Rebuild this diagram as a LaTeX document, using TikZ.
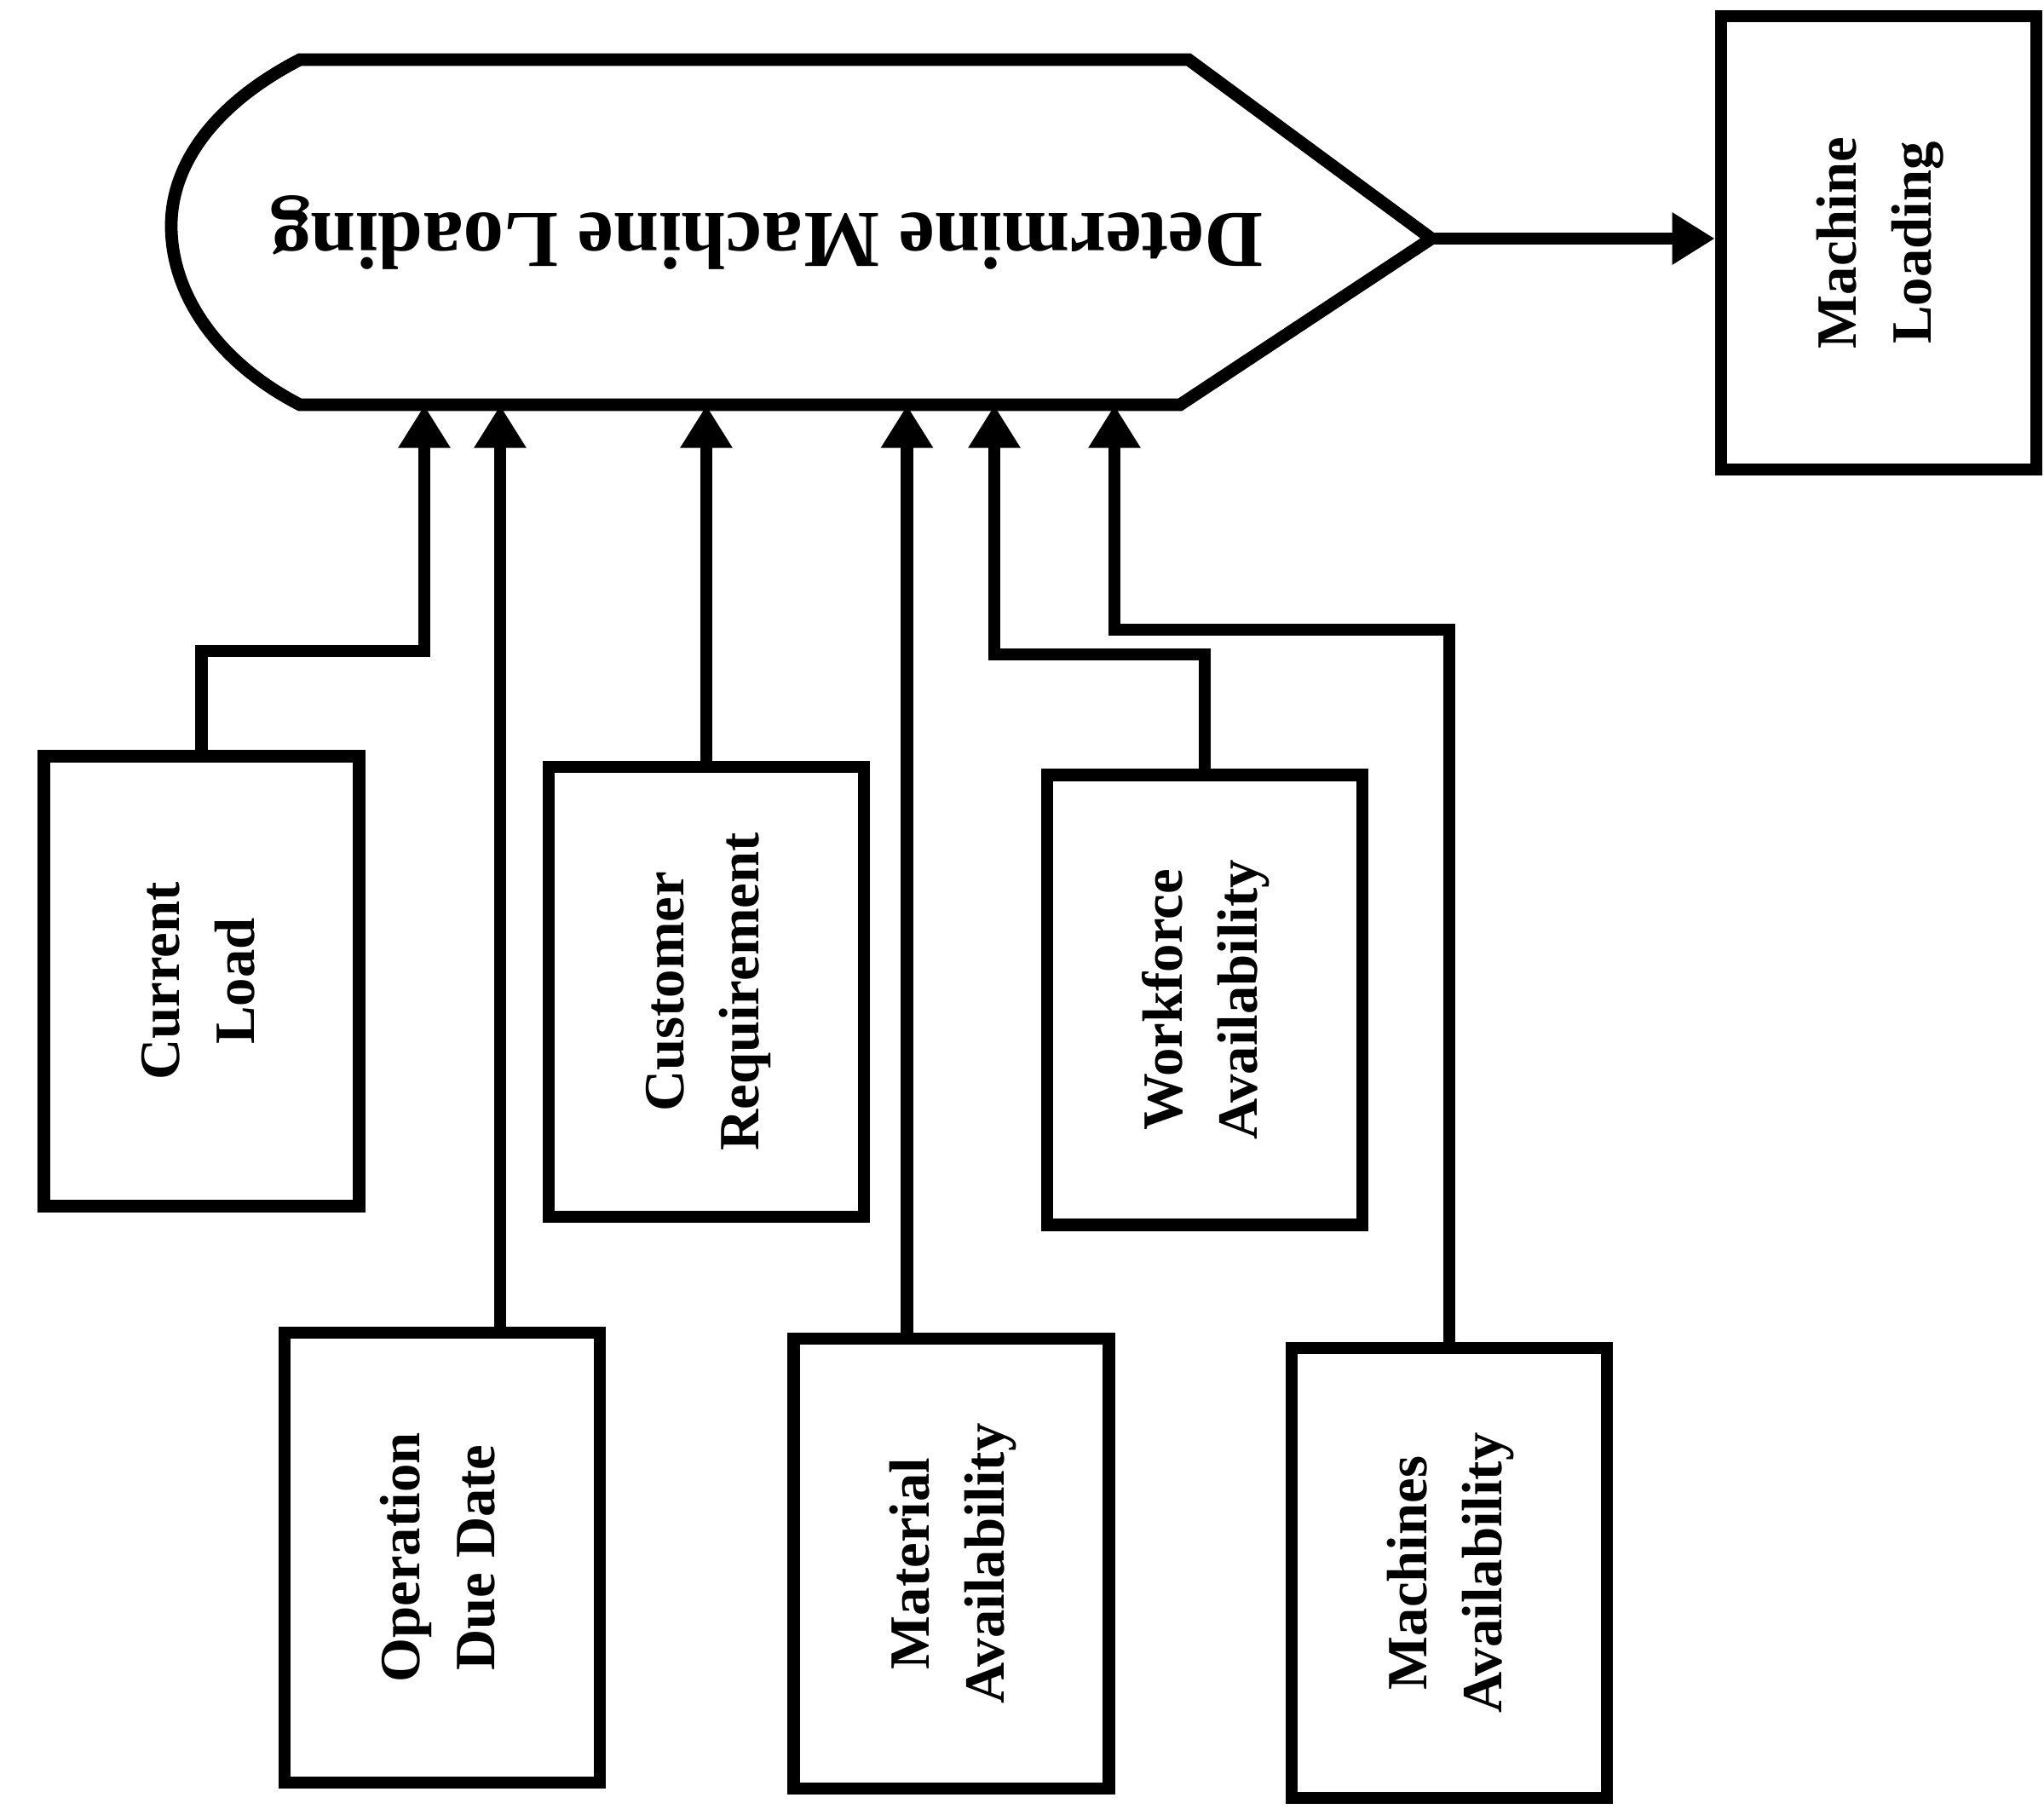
\documentclass[tikz,border=0pt]{standalone}
\usepackage{graphicx}
\usepackage{fontspec}
\setmainfont{Liberation Serif}
\usepackage{tikz}
\usetikzlibrary{arrows.meta}
\usetikzlibrary{positioning}

\newcommand{\boxfont}{\bfseries\fontsize{19}{25}\selectfont}
\newcommand{\upword}[1]{\rotatebox{90}{\begin{tabular}{@{}c@{}}#1\end{tabular}}}

\begin{document}
\begin{tikzpicture}[
    box/.style={draw, line width=4.2pt, minimum width=3.7cm, minimum height=5.28cm,
      inner sep=0pt, font=\boxfont},
    feed/.style={line width=4.2pt, -{Triangle[length=5mm,width=5.8mm]}}
  ]
    \useasboundingbox (0,0) rectangle (23.99,-21.23);

    % process symbol
    \coordinate (tip) at (16.80,-2.80);
    \node (dml) [minimum height=4.05cm, inner sep=0pt,
      font=\bfseries\fontsize{27}{32}\selectfont]
      at (9.0,-2.725) {\rotatebox{180}{Determine Machine Loading}};
    \draw [line width=4.2pt] (3.52,-0.70) -- (13.95,-0.70) -- (tip)
      -- (13.85,-4.75) -- (3.52,-4.75)
      .. controls (2.55,-4.25) and (2.01,-3.45) .. (2.01,-2.65)
      .. controls (2.01,-1.90) and (2.55,-1.20) .. cycle;

    % output
    \node (ml) [box, minimum height=5.32cm] at (22.05,-2.85) {\upword{Machine\\Loading}};
    \draw [feed] (tip) -- (tip -| ml.west);

    % inputs, upper row
    \node (cur) [box] at (2.365,-11.515) {\upword{Current\\Load}};
    \node (cust) [box] at (8.29,-11.64) {\upword{Customer\\Requirement}};
    \node (work) [box] at (14.14,-11.735) {\upword{Workforce\\Availability}};

    % inputs, lower row
    \node (opd) [box] at (5.19,-18.28) {\upword{Operation\\Due Date}};
    \node (mat) [box] at (11.165,-18.35) {\upword{Material\\Availability}};
    \node (mach) [box] at (17.01,-18.46) {\upword{Machines\\Availability}};

    % bends and drop points
    \coordinate (cl) at (4.98,-7.64);
    \coordinate (wf) at (11.67,-7.68);
    \coordinate (ma) at (13.08,-7.39);
    \coordinate (od) at ([xshift=6.8mm]opd.north);
    \coordinate (md) at ([xshift=-5.2mm]mat.north);

    \draw [feed] (cur.north) |- (cl) -- (cl |- dml.south);
    \draw [feed] (od) -- (od |- dml.south);
    \draw [feed] (cust.north) -- (cust.north |- dml.south);
    \draw [feed] (md) -- (md |- dml.south);
    \draw [feed] (work.north) |- (wf) -- (wf |- dml.south);
    \draw [feed] (mach.north) |- (ma) -- (ma |- dml.south);
  \end{tikzpicture}
\end{document}
